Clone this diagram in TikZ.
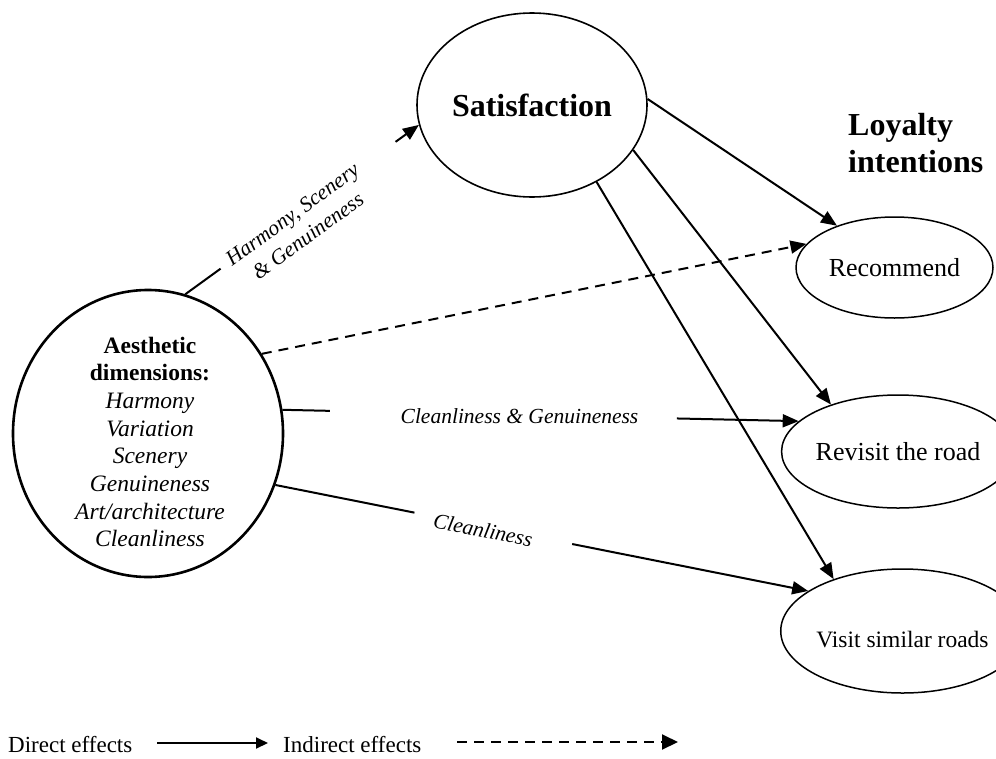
\documentclass[tikz,border=0pt]{standalone}
\usepackage{fontspec}
\setmainfont{Liberation Serif}
\usetikzlibrary{arrows.meta,shapes.geometric,calc}

\begin{document}
\begin{tikzpicture}[x=1pt,y=-1pt,
  oval/.style={ellipse,draw,line width=1.5pt,inner sep=0pt},
  effect/.style={line width=2pt,-{Triangle[length=16pt,width=13pt]}},
  plainline/.style={line width=2pt},
  indirect/.style={line width=2pt,dash pattern=on 10pt off 7pt,-{Triangle[length=16pt,width=13pt]}},
  pathlabel/.style={font=\fontsize{21.5}{26.5}\selectfont\itshape,inner sep=0pt,align=center},
  outcome/.style={font=\fontsize{26}{30}\selectfont},
  legendtext/.style={font=\fontsize{23}{27}\selectfont,inner sep=0pt,anchor=base west}]
\useasboundingbox (0,0) rectangle (996,758);

% Antecedent: aesthetic dimensions
\node[oval,line width=2.6pt,minimum width=270pt,minimum height=287pt] (aes) at (148,433.5) {};
\node[font=\fontsize{23.5}{27.7}\selectfont,align=center,inner sep=0pt] (aestxt) at (150,442)
  {\textbf{Aesthetic}\\\textbf{dimensions:}\\\textit{Harmony}\\\textit{Variation}\\\textit{Scenery}\\\textit{Genuineness}\\\textit{Art/architecture}\\\textit{Cleanliness}};

% Mediator
\node[oval,line width=1.6pt,minimum width=230pt,minimum height=184pt,
      font=\bfseries\fontsize{32}{38}\selectfont] (sat) at (532,105) {Satisfaction};

% Outcomes
\node[font=\bfseries\fontsize{32}{37}\selectfont,align=left,anchor=north west,inner sep=0pt] (loy) at (848,113) {Loyalty\\intentions};
\node[oval,outcome,minimum width=197pt,minimum height=101pt] (rec) at (894.5,267.5) {Recommend};
\node[oval,outcome,minimum width=192pt,minimum height=113pt] (rev) at (898,451.5) {Revisit the road};
\node[oval,font=\fontsize{23.5}{28}\selectfont,text height=32pt,text depth=0pt,
      minimum width=187pt,minimum height=124pt] (vis) at (902.5,631) {Visit similar roads};

% Aesthetic -> Satisfaction (labelled, with gap)
\draw[plainline] (aes.75) -- ($(aes.75)!0.151!(sat.190)$);
\draw[effect] ($(aes.75)!0.90!(sat.190)$) -- (sat.190);
\node[pathlabel,rotate=36] (lhsg) at (300,225) {Harmony, Scenery\\\& Genuineness};

% Aesthetic -> Recommend (indirect)
\draw[indirect] (aes.35) -- (rec.165.5);

% Aesthetic -> Revisit (labelled, with gap)
\draw[plainline] (aes.10) -- ($(aes.10)!0.092!(rev.163.5)$);
\draw[effect] ($(aes.10)!0.764!(rev.163.5)$) -- (rev.163.5);
\node[pathlabel] (lcg) at (519.5,416.5) {Cleanliness \& Genuineness};

% Aesthetic -> Visit similar roads (labelled, with gap)
\draw[plainline] (aes.-22.7) -- ($(aes.-22.7)!0.261!(vis.157.4)$);
\draw[effect] ($(aes.-22.7)!0.557!(vis.157.4)$) -- (vis.157.4);
\node[pathlabel,rotate=-11.5] (lc) at (483,530) {Cleanliness};

% Satisfaction -> outcomes
\draw[effect] (sat.3) -- (rec.144);
\draw[effect] (sat.-24) -- (rev.145.7);
\draw[effect] (sat.-50.5) -- (vis.143.4);

% Legend
\node[legendtext] (ldir) at (8,752) {Direct effects};
\coordinate (d1) at (157,743);
\coordinate (d2) at (268,743);
\draw[line width=2pt,-{Triangle[length=12pt,width=11pt]}] (d1) -- (d2);
\node[legendtext] (lind) at (283,752) {Indirect effects};
\coordinate (i1) at (457,742);
\coordinate (i2) at (678,742);
\draw[line width=2pt,dash pattern=on 10pt off 7pt,-{Triangle[length=16pt,width=15pt]}] (i1) -- (i2);
\end{tikzpicture}
\end{document}
